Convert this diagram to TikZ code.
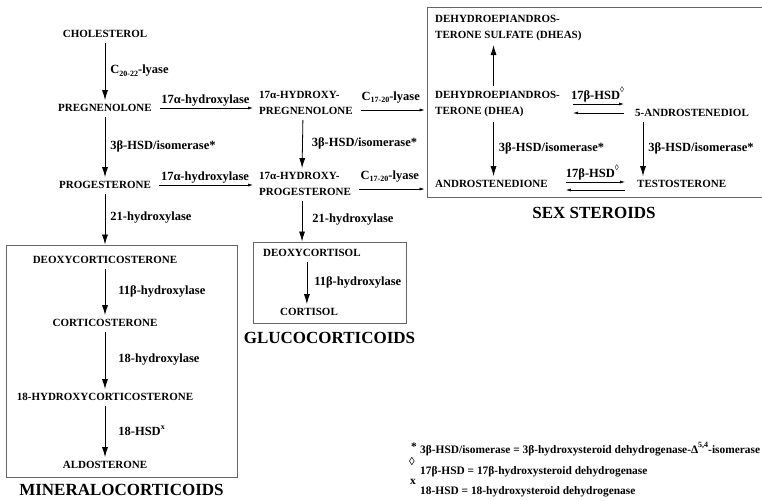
\documentclass[tikz,border=0pt]{standalone}
\usepackage{fontspec}
\setmainfont{Liberation Serif}
\usetikzlibrary{positioning, arrows.meta}
\newcommand{\lowidx}[1]{\raisebox{-0.45ex}{\fontsize{8}{8}\selectfont #1}}
\newcommand{\highidx}[1]{\raisebox{1.1ex}{\fontsize{8}{8}\selectfont #1}}

\begin{document}
\begin{tikzpicture}[
    x=1pt, y=-1pt,
    compound/.style={inner sep=2pt, align=left, font=\fontsize{11}{16}\selectfont\bfseries},
    enzyme/.style={inner sep=2pt, font=\fontsize{12.5}{14}\selectfont\bfseries},
    arrow/.style={-{Latex[length=10pt, width=6pt]}, line width=0.8pt, shorten <=3pt, shorten >=2pt},
    small_arrow/.style={-{Latex[length=5pt, width=3pt]}, line width=0.6pt},
    group/.style={draw=black!60, line width=0.9pt, inner sep=0pt},
    title/.style={inner sep=0pt, font=\fontsize{17}{20}\selectfont\bfseries},
    note/.style={anchor=base west, inner sep=0pt, font=\fontsize{11.4}{12}\selectfont\bfseries}
]
\useasboundingbox (0,0) rectangle (762,500);

% Group boxes
\node[group, minimum width=231pt, minimum height=232pt] (minbox) at (121.5,361) {};
\node[group, minimum width=153pt, minimum height=81pt] (glubox) at (329.5,282.5) {};
\node[group, minimum width=340pt, minimum height=190pt] (sexbox) at (597,102) {};
\node[title, below=7pt of minbox] {MINERALOCORTICOIDS};
\node[title, below=9pt of glubox] {GLUCOCORTICOIDS};
\node[title, below=10pt of sexbox, xshift=-3pt] {SEX STEROIDS};

% Compounds
\node[compound] (chol) at (105,34) {CHOLESTEROL};
\node[compound] (preg) at (105,108) {PREGNENOLONE};
\node[compound] (prog) at (105,185) {PROGESTERONE};
\node[compound, anchor=west] (ohpreg) at (257,103) {17α-HYDROXY-\\PREGNENOLONE};
\node[compound, anchor=west] (ohprog) at (257,184) {17α-HYDROXY-\\PROGESTERONE};
\node[compound, anchor=west] (dheas) at (433,28) {DEHYDROEPIANDROS-\\TERONE SULFATE (DHEAS)};
\node[compound, anchor=west] (dhea) at (433,104) {DEHYDROEPIANDROS-\\TERONE (DHEA)};
\node[compound, anchor=west] (adiol) at (633,113) {5-ANDROSTENEDIOL};
\node[compound, anchor=west] (andro) at (433,184) {ANDROSTENEDIONE};
\node[compound, anchor=west] (testo) at (635,184) {TESTOSTERONE};
\node[compound] (doc) at (105,260) {DEOXYCORTICOSTERONE};
\node[compound] (cort) at (105,323) {CORTICOSTERONE};
\node[compound] (ohcort) at (105,397) {18-HYDROXYCORTICOSTERONE};
\node[compound] (aldo) at (105,465) {ALDOSTERONE};
\node[compound, anchor=west] (deoxf) at (261,253) {DEOXYCORTISOL};
\node[compound, anchor=west] (cortisol) at (278,312) {CORTISOL};

% Left column
\draw[arrow] (chol) -- node[enzyme, right=3pt] {C\lowidx{20-22}-lyase} (preg);
\draw[arrow] (preg) -- node[enzyme, right=3pt] {3β-HSD/isomerase*} (prog);
\draw[arrow, shorten >=0pt] (prog) -- node[enzyme, right=3pt] {21-hydroxylase} (prog |- minbox.north);
\draw[arrow] (doc) -- node[enzyme, right=11pt] {11β-hydroxylase} (cort);
\draw[arrow] (cort) -- node[enzyme, right=11pt] {18-hydroxylase} (ohcort);
\draw[arrow] (ohcort) -- node[enzyme, right=11pt] {18-HSD\highidx{x}} (aldo);

% Middle column
\draw[small_arrow, shorten <=6pt, shorten >=4pt] (preg.east) -- node[enzyme, above=0pt] {17α-hydroxylase} (preg.east -| ohpreg.west);
\draw[small_arrow, shorten <=6pt, shorten >=4pt] (prog.east) -- node[enzyme, above=0pt] {17α-hydroxylase} (prog.east -| ohprog.west);
\draw[arrow] ([xshift=-3pt]ohpreg.south) -- node[enzyme, right=7pt] {3β-HSD/isomerase*} ([xshift=-3pt]ohprog.north);
\draw[arrow, shorten >=0pt] ([xshift=-3pt]ohprog.south) -- node[enzyme, right=8pt] {21-hydroxylase} ([xshift=-3pt]ohprog.south |- glubox.north);
\draw[arrow] ([xshift=-5pt]deoxf.south) -- node[enzyme, right=5pt] {11β-hydroxylase} ([xshift=-5pt]deoxf.south |- cortisol.north);

% Into the sex steroids
\draw[small_arrow, shorten <=6pt, shorten >=2pt] ([yshift=-7pt]ohpreg.east) -- node[enzyme, above=5pt] {C\lowidx{17-20}-lyase} ([yshift=-7pt]ohpreg.east -| sexbox.west);
\draw[small_arrow, shorten <=6pt, shorten >=2pt] ([yshift=-5pt]ohprog.east) -- node[enzyme, above=5pt] {C\lowidx{17-20}-lyase} ([yshift=-5pt]ohprog.east -| sexbox.west);

% Sex steroids
\draw[arrow] ([xshift=-4pt]dhea.north) -- ([xshift=-4pt]dhea.north |- dheas.south);
\draw[arrow] ([xshift=-4pt]dhea.south) -- node[enzyme, right=3pt] {3β-HSD/isomerase*} ([xshift=-4pt]dhea.south |- andro.north);
\draw[arrow] ([xshift=10pt]adiol.south west) -- node[enzyme, right=3pt] {3β-HSD/isomerase*} ([xshift=10pt]adiol.south west |- testo.north);
\draw[small_arrow, shorten <=11pt, shorten >=9pt] (dhea.east) -- node[enzyme, above=0pt] {17β-HSD\highidx{◊}} (dhea.east -| adiol.west);
\draw[small_arrow, shorten <=9pt, shorten >=11pt] (adiol.west) -- (adiol.west -| dhea.east);
\draw[small_arrow, shorten <=16pt, shorten >=10pt] ([yshift=2pt]andro.east) -- node[enzyme, above=0pt] {17β-HSD\highidx{◊}} ([yshift=2pt]testo.west);
\draw[small_arrow, shorten <=10pt, shorten >=16pt] ([yshift=-6pt]testo.west) -- ([yshift=-6pt]andro.east);

% Footnotes
\node[note] (star) at (411,450) {*};
\node[note] (fn1) at (420,453) {3β-HSD/isomerase = 3β-hydroxysteroid dehydrogenase-Δ\highidx{5,4}-isomerase};
\node[note] (loz) at (409,465) {◊};
\node[note] (fn2) at (420,474) {17β-HSD = 17β-hydroxysteroid dehydrogenase};
\node[note] (cross) at (410,484) {x};
\node[note] (fn3) at (420,494) {18-HSD = 18-hydroxysteroid dehydrogenase};

\end{tikzpicture}
\end{document}
